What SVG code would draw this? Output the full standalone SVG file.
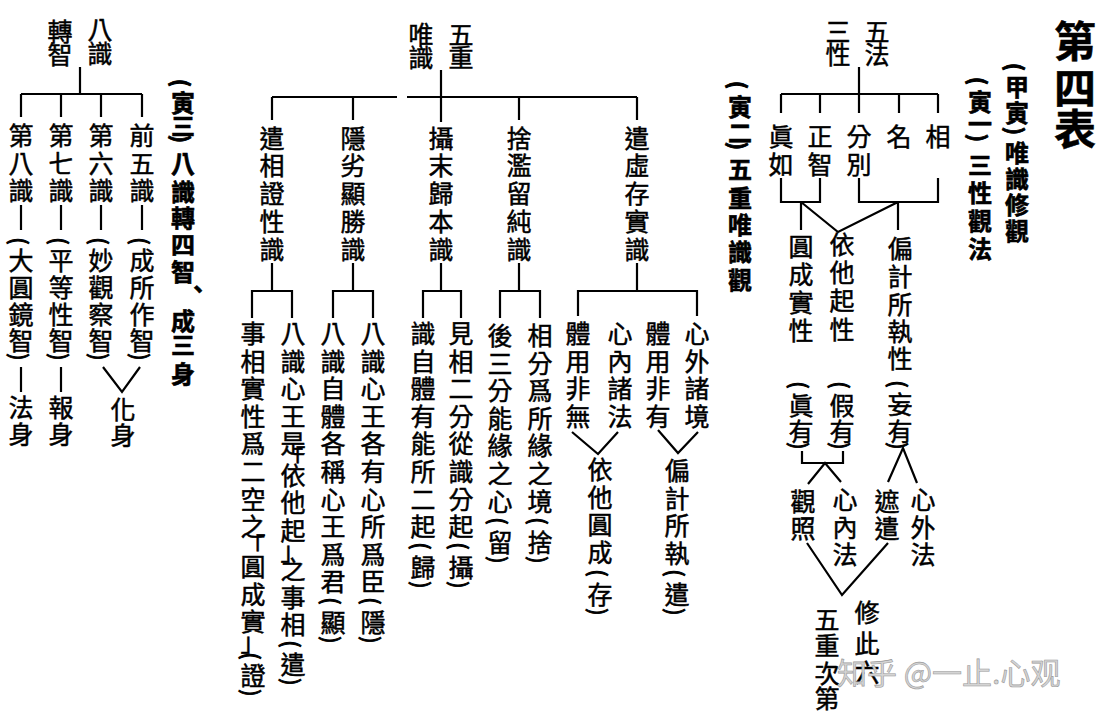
<svg xmlns="http://www.w3.org/2000/svg" width="1107" height="720" viewBox="0 0 1107 720">
<style>
.t{font-family:"Noto Sans CJK TC","Noto Sans CJK SC",sans-serif;font-size:25px;text-anchor:middle;dominant-baseline:central;fill:#000;stroke:#000;stroke-width:0.5}
.b{font-weight:bold;font-size:24px;stroke-width:0.6}
.ttl{font-weight:bold;font-size:42px}
.p{font-size:22px;stroke-width:0.9}
.ln{stroke:#000;stroke-width:2.2;fill:none;stroke-linejoin:miter}
.wm{font-family:"Noto Sans CJK SC",sans-serif;font-size:30px;fill:#d4d4d4;stroke:#9a9a9a;stroke-width:0.6}
</style>
<rect width="1107" height="720" fill="#fff"/>
<g id="connectors">
<path class="ln" d="M859,67 V113 M781,94 H938 M781,94 V113 M820,94 V113 M899,94 V113 M938,94 V113"/>
<path class="ln" d="M781,178 V202 H820 V178 M859,178 V202 H938 V178"/>
<path class="ln" d="M801,202 V230 M801,202 L838,232 L898,202 M898,202 V230"/>
<path class="ln" d="M802,451 V463 H843 V451 M808,484 L825,463 L841,482"/>
<path class="ln" d="M888,482 L903,448 L917,483"/>
<path class="ln" d="M807,543 L842,595 L888,543"/>
<path class="ln" d="M441,70 V122 M272,97 H397 M407,97 H637 M272,97 V120 M353,97 V120 M519,97 V120 M637,97 V120"/>
<path class="ln" d="M272,263 V291 M353,263 V291 M441,263 V291 M519,263 V291 M637,263 V291"/>
<path class="ln" d="M252,318 V291 H292 V318 M333,318 V291 H373 V318 M423,318 V291 H461 V318 M500,318 V291 H540 V318 M578,316 V291 H697 V316"/>
<path class="ln" d="M572,432 L598,454 L618,432 M658,430 L678,453 L698,432"/>
<path class="ln" d="M80,67 V94 M21,94 H142 M21,94 V117 M61,94 V117 M101,94 V117 M142,94 V117"/>
<path class="ln" d="M21,205 V230 M61,205 V230 M101,205 V230 M142,205 V230"/>
<path class="ln" d="M21,367 V392 M61,367 V392 M103,367 L122,392 L140,367"/>
</g>
<g id="title"><text class="t ttl" x="1075 1075 1075" y="38 85 126">第四表</text></g>
<g id="h-jia"><text class="t b p" transform="translate(1017,67) rotate(90)">(</text><text class="t b" x="1017 1017 1017 1017 1017 1017" y="85 111 151 177 203 229">甲寅唯識修觀</text><text class="t b p" transform="translate(1017,131) rotate(90)">)</text></g>
<g id="h-yin1"><text class="t b p" transform="translate(980,81) rotate(90)">(</text><text class="t b" x="980 980 980 980 980 980" y="100 122 163 191 219 247">寅一三性觀法</text><text class="t b p" transform="translate(980,138) rotate(90)">)</text></g>
<g id="n-wufa"><text class="t" x="877 877" y="30 53">五法</text><text class="t" x="838 838" y="30 53">三性</text></g>
<g id="n-zhenru"><text class="t" x="781 781" y="135 163">眞如</text></g>
<g id="n-zhengzhi"><text class="t" x="820 820" y="135 163">正智</text></g>
<g id="n-fenbie"><text class="t" x="859 859" y="135 163">分別</text></g>
<g id="n-ming"><text class="t" x="899" y="135">名</text></g>
<g id="n-xiang"><text class="t" x="938" y="135">相</text></g>
<g id="n-yuancheng"><text class="t" x="801 801 801 801" y="245 273 301 329">圓成實性</text></g>
<g id="n-yita"><text class="t" x="842 842 842 842" y="243 271 299 328">依他起性</text></g>
<g id="n-bianji"><text class="t" x="900 900 900 900 900" y="247 275 303 330 357">偏計所執性</text></g>
<g id="n-zhenyou"><text class="t p" transform="translate(801,385) rotate(90)">(</text><text class="t" x="801 801" y="404 430">眞有</text><text class="t p" transform="translate(801,446) rotate(90)">)</text></g>
<g id="n-jiayou"><text class="t p" transform="translate(842,385) rotate(90)">(</text><text class="t" x="842 842" y="404 430">假有</text><text class="t p" transform="translate(842,446) rotate(90)">)</text></g>
<g id="n-wangyou"><text class="t p" transform="translate(900,384) rotate(90)">(</text><text class="t" x="900 900" y="403 430">妄有</text><text class="t p" transform="translate(900,446) rotate(90)">)</text></g>
<g id="n-guanzhao"><text class="t" x="803 803" y="500 527">觀照</text></g>
<g id="n-xinneifa"><text class="t" x="845 845 845" y="498 526 553">心內法</text></g>
<g id="n-zhequan"><text class="t" x="887 887" y="500 527">遮遣</text></g>
<g id="n-xinwaifa"><text class="t" x="923 923 923" y="498 526 553">心外法</text></g>
<g id="n-xiuci"><text class="t" x="867 867 867" y="611 642 671">修此六</text><text class="t" x="827 827 827 827" y="618 644 672 697">五重次第</text></g>
<g id="h-yin2"><text class="t b p" transform="translate(740,85) rotate(90)">(</text><text class="t b" x="740 740 740 740 740 740 740" y="105 131 167 196 223 250 278">寅二五重唯識觀</text><text class="t b p" transform="translate(740,146) rotate(90)">)</text></g>
<g id="n-wuzhong"><text class="t" x="461 461" y="33 56">五重</text><text class="t" x="421 421" y="33 56">唯識</text></g>
<g id="n-m1"><text class="t" x="272 272 272 272 272" y="137 164 192 220 248">遣相證性識</text></g>
<g id="n-m2"><text class="t" x="353 353 353 353 353" y="137 164 192 220 248">隱劣顯勝識</text></g>
<g id="n-m3"><text class="t" x="441 441 441 441 441" y="137 164 192 220 248">攝末歸本識</text></g>
<g id="n-m4"><text class="t" x="519 519 519 519 519" y="137 164 192 220 248">捨濫留純識</text></g>
<g id="n-m5"><text class="t" x="637 637 637 637 637" y="137 164 192 220 248">遣虛存實識</text></g>
<g id="n-a"><text class="t" x="253 253 253 253 253 253 253 253 253 253 253 253 253 253" y="332 360 387 415 442 470 498 525 545 565 593 620 640 674">事相實性爲二空之「圓成實」證</text><text class="t p" transform="translate(253,656) rotate(90)">(</text><text class="t p" transform="translate(253,693) rotate(90)">)</text></g>
<g id="n-b"><text class="t" x="293 293 293 293 293 293 293 293 293 293 293 293 293 293" y="332 360 387 415 442 457 474 501 529 549 568 596 623 663">八識心王是「依他起」之事相遣</text><text class="t p" transform="translate(293,644) rotate(90)">(</text><text class="t p" transform="translate(293,682) rotate(90)">)</text></g>
<g id="n-c"><text class="t" x="333 333 333 333 333 333 333 333 333 333 333" y="332 360 387 415 442 470 498 525 553 580 621">八識自體各稱心王爲君顯</text><text class="t p" transform="translate(333,601) rotate(90)">(</text><text class="t p" transform="translate(333,640) rotate(90)">)</text></g>
<g id="n-d"><text class="t" x="373 373 373 373 373 373 373 373 373 373 373" y="332 360 387 415 442 470 498 525 553 580 621">八識心王各有心所爲臣隱</text><text class="t p" transform="translate(373,601) rotate(90)">(</text><text class="t p" transform="translate(373,640) rotate(90)">)</text></g>
<g id="n-e"><text class="t" x="423 423 423 423 423 423 423 423 423" y="332 360 387 415 442 470 498 525 566">識自體有能所二起歸</text><text class="t p" transform="translate(423,546) rotate(90)">(</text><text class="t p" transform="translate(423,585) rotate(90)">)</text></g>
<g id="n-f"><text class="t" x="461 461 461 461 461 461 461 461 461" y="332 360 387 415 442 470 498 525 566">見相二分從識分起攝</text><text class="t p" transform="translate(461,546) rotate(90)">(</text><text class="t p" transform="translate(461,585) rotate(90)">)</text></g>
<g id="n-g"><text class="t" x="500 500 500 500 500 500 500 500" y="334 362 389 417 444 472 500 541">後三分能緣之心留</text><text class="t p" transform="translate(500,521) rotate(90)">(</text><text class="t p" transform="translate(500,560) rotate(90)">)</text></g>
<g id="n-h"><text class="t" x="540 540 540 540 540 540 540 540" y="334 362 389 417 444 472 500 541">相分爲所緣之境捨</text><text class="t p" transform="translate(540,521) rotate(90)">(</text><text class="t p" transform="translate(540,560) rotate(90)">)</text></g>
<g id="n-i"><text class="t" x="578 578 578 578" y="332 360 387 415">體用非無</text></g>
<g id="n-j"><text class="t" x="620 620 620 620" y="332 360 387 415">心內諸法</text></g>
<g id="n-k"><text class="t" x="658 658 658 658" y="332 360 387 415">體用非有</text></g>
<g id="n-l"><text class="t" x="697 697 697 697" y="332 360 387 415">心外諸境</text></g>
<g id="n-m"><text class="t" x="600 600 600 600 600" y="468 496 523 551 593">依他圓成存</text><text class="t p" transform="translate(600,573) rotate(90)">(</text><text class="t p" transform="translate(600,612) rotate(90)">)</text></g>
<g id="n-n"><text class="t" x="677 677 677 677 677" y="469 497 524 552 593">偏計所執遣</text><text class="t p" transform="translate(677,573) rotate(90)">(</text><text class="t p" transform="translate(677,612) rotate(90)">)</text></g>
<g id="h-yin3"><text class="t b p" transform="translate(183,83) rotate(90)">(</text><text class="t b" x="183 183 183 183 183 183 183 198 183 183 183" y="101 124 162 190 216 243 270 287 319 343 372">寅三八識轉四智、成三身</text><text class="t b p" transform="translate(183,139) rotate(90)">)</text></g>
<g id="n-bashi"><text class="t" x="100 100" y="28 52">八識</text><text class="t" x="60 60" y="30 53">轉智</text></g>
<g id="n-l1"><text class="t" x="21 21 21" y="134 162 189">第八識</text></g>
<g id="n-l2"><text class="t" x="61 61 61" y="134 162 189">第七識</text></g>
<g id="n-l3"><text class="t" x="101 101 101" y="134 162 189">第六識</text></g>
<g id="n-l4"><text class="t" x="142 142 142" y="134 162 189">前五識</text></g>
<g id="n-w1"><text class="t p" transform="translate(21,241) rotate(90)">(</text><text class="t" x="21 21 21 21" y="259 286 313 339">大圓鏡智</text><text class="t p" transform="translate(21,357) rotate(90)">)</text></g>
<g id="n-w2"><text class="t p" transform="translate(61,241) rotate(90)">(</text><text class="t" x="61 61 61 61" y="259 286 313 339">平等性智</text><text class="t p" transform="translate(61,357) rotate(90)">)</text></g>
<g id="n-w3"><text class="t p" transform="translate(101,241) rotate(90)">(</text><text class="t" x="101 101 101 101" y="259 286 313 339">妙觀察智</text><text class="t p" transform="translate(101,357) rotate(90)">)</text></g>
<g id="n-w4"><text class="t p" transform="translate(142,241) rotate(90)">(</text><text class="t" x="142 142 142 142" y="259 286 313 339">成所作智</text><text class="t p" transform="translate(142,357) rotate(90)">)</text></g>
<g id="n-fashen"><text class="t" x="21 21" y="406 433">法身</text></g>
<g id="n-baoshen"><text class="t" x="61 61" y="406 433">報身</text></g>
<g id="n-huashen"><text class="t" x="123 123" y="408 434">化身</text></g>
<text class="wm" x="837" y="684">知乎 @一止.心观</text>
</svg>
